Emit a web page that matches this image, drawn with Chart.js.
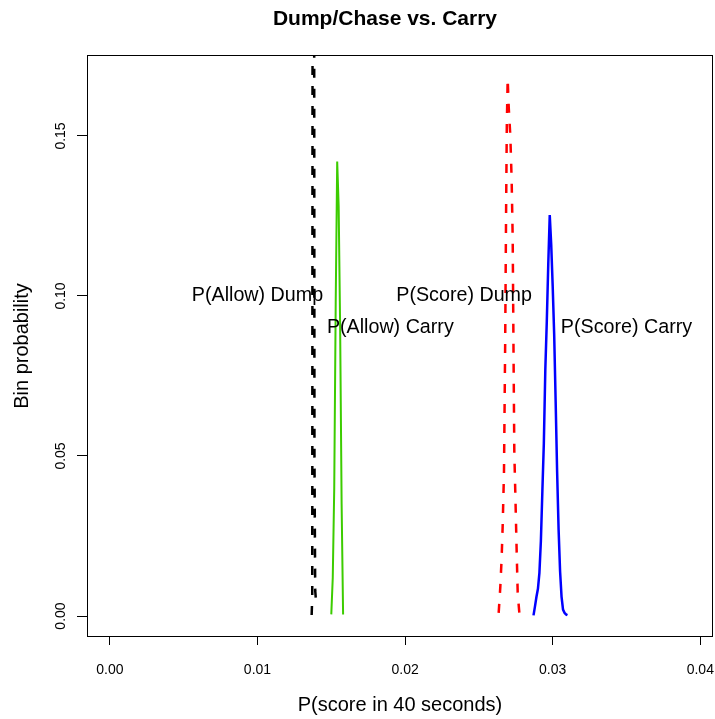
<!DOCTYPE html>
<html>
<head>
<meta charset="utf-8">
<script src="https://cdn.jsdelivr.net/npm/chart.js@4.4.0/dist/chart.umd.min.js"></script>
<style>
  html, body { margin: 0; padding: 0; background: #fff; }
  canvas { display: block; }
</style>
</head>
<body>
<canvas id="chart" width="715" height="719"></canvas>
<script>
// P(Allow) Dump - black dashed, peak runs off the top of the plot
const allowDumpX = [0.01367, 0.01371, 0.01378, 0.01386, 0.01391, 0.01396];
const allowDumpY = [0.0003, 0.0060, 0.6200, 0.0500, 0.0080, 0.0050];

// P(Allow) Carry - green
const allowCarryX = [0.0150, 0.0151, 0.0152, 0.0153, 0.0154, 0.0155, 0.0156, 0.0157, 0.0158];
const allowCarryY = [0.0005, 0.012, 0.040, 0.098, 0.142, 0.128, 0.090, 0.035, 0.0005];

// P(Score) Dump - red dashed
const scoreDumpX = [0.02634, 0.02645, 0.02654, 0.02661, 0.02670, 0.02678, 0.02684, 0.02689, 0.02695, 0.02702,
                    0.02713, 0.02722, 0.02729, 0.02735, 0.02740, 0.02747, 0.02756, 0.02763, 0.02774, 0.02790];
const scoreDumpY = [0.0010, 0.0090, 0.0180, 0.0280, 0.0450, 0.0850, 0.1250, 0.1530, 0.1680, 0.1590,
                    0.1500, 0.1360, 0.1180, 0.0800, 0.0510, 0.0380, 0.0200, 0.0070, 0.0010, 0.0005];

// P(Score) Carry - blue
const scoreCarryX = [0.0287, 0.0288, 0.0289, 0.0290, 0.0291, 0.0292, 0.0293, 0.0294, 0.0295, 0.0296, 0.0297, 0.0298,
                     0.0299, 0.0300, 0.0301, 0.0302, 0.0303, 0.0304, 0.0305, 0.0306, 0.0307, 0.0308, 0.0309, 0.0310];
const scoreCarryY = [0.0002, 0.0030, 0.0060, 0.0085, 0.0135, 0.0235, 0.0390, 0.0540, 0.0770, 0.0920, 0.1100, 0.1253,
                     0.1160, 0.1030, 0.0880, 0.0670, 0.0450, 0.0270, 0.0140, 0.0060, 0.0020, 0.0010, 0.0005, 0.0003];

const xTicks = [0, 0.01, 0.02, 0.03, 0.04];
const yTicks = [0, 0.05, 0.10, 0.15];

const noteText = ["P(Allow) Dump", "P(Allow) Carry", "P(Score) Dump", "P(Score) Carry"];
const noteX = [0.010, 0.019, 0.024, 0.035];
const noteY = [0.10, 0.09, 0.10, 0.09];

const FONT = "'Liberation Sans', Arial, sans-serif";

function toPoints(xs, ys) {
  return xs.map((x, i) => ({ x: x, y: ys[i] }));
}

function series(xs, ys, color, width, dash) {
  return {
    data: toPoints(xs, ys),
    showLine: true,
    borderColor: color,
    borderWidth: width,
    borderDash: dash,
    pointRadius: 0,
    fill: false,
    tension: 0,
  };
}

// box, title, rotated y labels and the text notes, drawn the R way
const decorations = {
  id: "decorations",
  afterDraw(chart) {
    const { ctx, chartArea: a, scales: { x, y } } = chart;
    ctx.save();
    ctx.strokeStyle = "#000";
    ctx.lineWidth = 1;
    ctx.strokeRect(a.left + 0.5, a.top + 0.5, a.right - a.left - 1, a.bottom - a.top - 1);

    ctx.fillStyle = "#000";
    ctx.font = "bold 21px " + FONT;
    ctx.textAlign = "center";
    ctx.textBaseline = "alphabetic";
    ctx.fillText("Dump/Chase vs. Carry", 385, 25);

    ctx.font = "14px " + FONT;
    ctx.textBaseline = "middle";
    yTicks.forEach((v) => {
      ctx.save();
      ctx.translate(61, y.getPixelForValue(v));
      ctx.rotate(-Math.PI / 2);
      ctx.fillText(v.toFixed(2), 0, 0);
      ctx.restore();
    });

    ctx.font = "19.7px " + FONT;
    noteText.forEach((t, i) => {
      ctx.fillText(t, x.getPixelForValue(noteX[i]), y.getPixelForValue(noteY[i]));
    });
    ctx.restore();
  },
};

new Chart(document.getElementById("chart"), {
  type: "scatter",
  data: {
    datasets: [
      series(allowDumpX, allowDumpY, "#000000", 2.5, [9, 11]),
      series(allowCarryX, allowCarryY, "#3ccc00", 2, []),
      series(scoreDumpX, scoreDumpY, "#ff0000", 2.5, [9, 11]),
      series(scoreCarryX, scoreCarryY, "#0000ff", 2.5, []),
    ],
  },
  options: {
    responsive: false,
    animation: false,
    devicePixelRatio: 1,
    layout: { autoPadding: false, padding: { top: 55, right: 2, left: 0, bottom: 0 } },
    plugins: {
      legend: { display: false },
      tooltip: { enabled: false },
    },
    scales: {
      x: {
        type: "linear",
        min: -0.00155,
        max: 0.04086,
        afterBuildTicks: (s) => { s.ticks = xTicks.map((v) => ({ value: v })); },
        afterFit: (s) => { s.height = 82; s.paddingLeft = 0; s.paddingRight = 0; },
        ticks: {
          callback: (v) => v.toFixed(2),
          font: { family: FONT, size: 14 },
          color: "#000",
          padding: 17,
          maxRotation: 0,
          autoSkip: false,
        },
        grid: { drawOnChartArea: false, drawTicks: true, tickLength: 8, color: "#000" },
        border: { display: false },
        title: {
          display: true,
          text: "P(score in 40 seconds)",
          font: { family: FONT, size: 20 },
          color: "#000",
          padding: { top: 0, bottom: 2 },
        },
      },
      y: {
        type: "linear",
        min: -0.00656,
        max: 0.1753,
        afterBuildTicks: (s) => { s.ticks = yTicks.map((v) => ({ value: v })); },
        afterFit: (s) => { s.width = 87; s.paddingTop = 0; s.paddingBottom = 0; },
        ticks: { display: false },
        grid: { drawOnChartArea: false, drawTicks: true, tickLength: 10, color: "#000" },
        border: { display: false },
        title: {
          display: true,
          text: "Bin probability",
          font: { family: FONT, size: 20 },
          color: "#000",
          padding: { top: 10, bottom: 0 },
        },
      },
    },
  },
  plugins: [decorations],
});
</script>
</body>
</html>
